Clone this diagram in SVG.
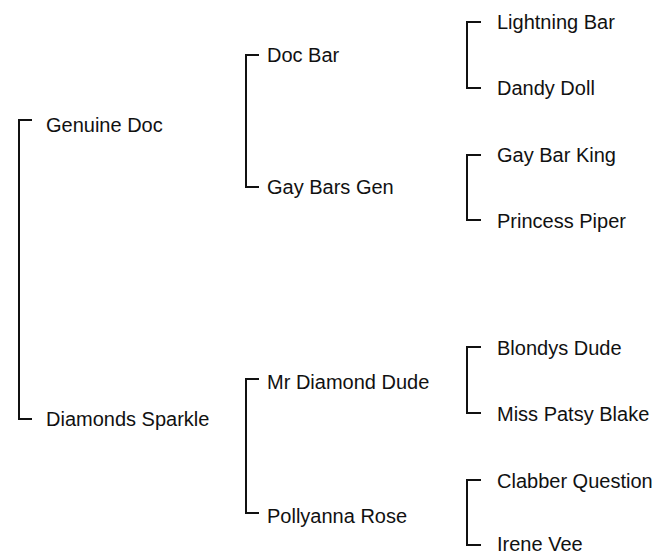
<svg xmlns="http://www.w3.org/2000/svg" width="655" height="556" viewBox="0 0 655 556">
  <style>
    .bracket { fill: none; stroke: #111; stroke-width: 2; stroke-linejoin: miter; stroke-linecap: butt; }
    .label { font-family: "Liberation Sans", Arial, sans-serif; font-size: 20px; fill: #111; }
  </style>
  <rect width="655" height="556" fill="#fff"/>

  <!-- bracket connectors: parent pairs joined to their sire / dam -->
  <g id="connectors">
    <path class="bracket" d="M32,120 H19 V419 H32"/>
    <path class="bracket" d="M259,55 H246 V187 H259"/>
    <path class="bracket" d="M259,379 H246 V513 H259"/>
    <path class="bracket" d="M481,22 H467 V88 H481"/>
    <path class="bracket" d="M481,155 H467 V220 H481"/>
    <path class="bracket" d="M481,347 H467 V413 H481"/>
    <path class="bracket" d="M481,480 H467 V545 H481"/>
  </g>

  <!-- generation 1 -->
  <g id="genuine-doc"><text class="label" x="46" y="132">Genuine Doc</text></g>
  <g id="diamonds-sparkle"><text class="label" x="46" y="426">Diamonds Sparkle</text></g>

  <!-- generation 2 -->
  <g id="doc-bar"><text class="label" x="267" y="62">Doc Bar</text></g>
  <g id="gay-bars-gen"><text class="label" x="267" y="194">Gay Bars Gen</text></g>
  <g id="mr-diamond-dude"><text class="label" x="267" y="389">Mr Diamond Dude</text></g>
  <g id="pollyanna-rose"><text class="label" x="267" y="523">Pollyanna Rose</text></g>

  <!-- generation 3 -->
  <g id="lightning-bar"><text class="label" x="497" y="29">Lightning Bar</text></g>
  <g id="dandy-doll"><text class="label" x="497" y="95">Dandy Doll</text></g>
  <g id="gay-bar-king"><text class="label" x="497" y="162">Gay Bar King</text></g>
  <g id="princess-piper"><text class="label" x="497" y="228">Princess Piper</text></g>
  <g id="blondys-dude"><text class="label" x="497" y="355">Blondys Dude</text></g>
  <g id="miss-patsy-blake"><text class="label" x="497" y="421">Miss Patsy Blake</text></g>
  <g id="clabber-question"><text class="label" x="497" y="488">Clabber Question</text></g>
  <g id="irene-vee"><text class="label" x="497" y="551">Irene Vee</text></g>
</svg>
